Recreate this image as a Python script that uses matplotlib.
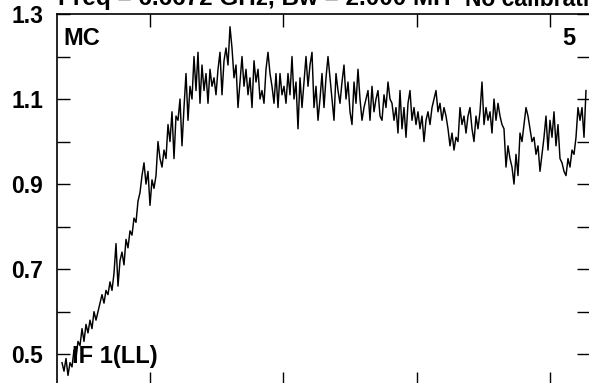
import matplotlib
matplotlib.use("Agg")
import matplotlib.pyplot as plt
import numpy as np

plt.rcParams['font.family'] = ['Liberation Sans', 'DejaVu Sans']
plt.rcParams['font.weight'] = 'bold'

# spectrum amplitude (one value every 2 channels)
flux = [
    # rise
    0.48, 0.46, 0.49, 0.45, 0.48, 0.47, 0.51, 0.49, 0.53, 0.52,
    0.56, 0.53, 0.57, 0.55, 0.58, 0.56, 0.60, 0.58, 0.60, 0.62,
    0.64, 0.62, 0.65, 0.64, 0.67, 0.65, 0.69, 0.76, 0.66, 0.72,
    0.74, 0.71, 0.77, 0.75, 0.79, 0.78, 0.82, 0.81, 0.86, 0.88,
    0.92, 0.95, 0.90, 0.93, 0.85, 0.91, 0.89, 0.92, 1.00, 0.96,
    0.94, 0.98, 0.96, 1.04, 1.00, 1.07, 0.96, 1.06, 1.05, 1.10,
    0.99, 1.08, 1.16, 1.05, 1.13, 1.10, 1.20, 1.12, 1.21, 1.09,
    # peak
    1.18, 1.12, 1.16, 1.09, 1.17, 1.13, 1.15, 1.11, 1.17, 1.21,
    1.11, 1.19, 1.22, 1.18, 1.27, 1.22, 1.15, 1.18, 1.08, 1.14,
    1.20, 1.13, 1.17, 1.11, 1.15, 1.08, 1.19, 1.14, 1.17, 1.10,
    # plateau
    1.12, 1.09, 1.17, 1.21, 1.16, 1.13, 1.09, 1.16, 1.08, 1.16,
    1.11, 1.13, 1.09, 1.16, 1.11, 1.20, 1.10, 1.14, 1.03, 1.15,
    1.08, 1.14, 1.20, 1.13, 1.18, 1.21, 1.08, 1.13, 1.05, 1.10,
    1.16, 1.08, 1.15, 1.20, 1.15, 1.10, 1.05, 1.16, 1.12, 1.09,
    1.14, 1.18, 1.10, 1.14, 1.07, 1.04, 1.14, 1.09, 1.17, 1.10,
    1.05, 1.08, 1.10, 1.12, 1.05,
    1.13, 1.07, 1.10, 1.12, 1.06, 1.05, 1.11, 1.08, 1.14, 1.10,
    1.09, 1.05, 1.08, 1.02, 1.12, 1.03, 1.08, 1.01, 1.09, 1.12,
    1.05, 1.08, 1.04, 1.07, 1.03, 1.06, 1.00, 1.05, 1.07, 1.04,
    1.08, 1.10, 1.12, 1.07, 1.09, 1.05, 1.08, 1.06, 1.03, 0.99,
    1.02, 0.98, 1.01, 1.00, 1.08, 1.04, 1.06, 1.02, 1.06, 1.08,
    1.03, 1.00,
    # dip and recovery
    1.06, 1.03, 1.07, 1.14, 1.04, 1.08, 1.05, 1.07, 1.02, 1.10,
    1.05, 1.09, 1.06, 1.04, 1.03, 0.94, 0.99, 0.96, 0.94, 0.90,
    0.97, 0.92, 1.02, 1.00, 1.04, 1.08, 1.06, 1.03, 1.00, 1.01,
    0.97, 0.99, 0.93, 0.97, 1.01, 1.06, 0.98, 1.05, 1.01, 1.07,
    0.99, 1.04, 0.96, 0.95, 0.93, 0.92, 0.96, 0.94, 0.98, 0.97,
    1.01, 1.08, 1.05, 1.08, 1.01, 1.12,
]
chan = 62 + 2 * np.arange(len(flux))

yticks = [0.5, 0.6, 0.7, 0.8, 0.9, 1.0, 1.1, 1.2, 1.3]
ylabels = ['0.5', '', '0.7', '', '0.9', '', '1.1', '', '1.3']
xticks = [150, 283, 417, 550]

title_left = 'Freq = 6.6672 GHz, Bw = 2.000 MH'
title_right = 'No calibrati'

fig = plt.figure(figsize=(5.89, 3.83), dpi=100)
ax = fig.add_axes([57 / 589, -2 / 383, 533 / 589, 371 / 383])

ax.plot(chan, flux, color='black', lw=1.05)

ax.set_xlim(57, 590)
ax.set_ylim(0.4275, 1.3)
ax.set_xticks(xticks)
ax.set_xticklabels([])
ax.set_yticks(yticks)
ax.set_yticklabels(ylabels)
ax.tick_params(direction='in', length=9.5, width=1.0, top=True, right=True,
               labelsize=16.5, pad=10)
for s in ax.spines.values():
    s.set_linewidth(1.2)

# corner labels
ax.text(0.012, 0.965, 'MC', transform=ax.transAxes,
        fontsize=17, fontweight='bold', va='top', ha='left')
ax.text(0.972, 0.965, '5', transform=ax.transAxes,
        fontsize=17, fontweight='bold', va='top', ha='right')
ax.text(0.028, 0.059, 'IF 1(LL)', transform=ax.transAxes,
        fontsize=17, fontweight='bold', va='baseline', ha='left')

# title, clipped by the top edge as in the original
fig.text(58 / 589, 1 - 5.5 / 383, title_left, fontsize=17.5,
         fontweight='bold', va='baseline', ha='left')
fig.text(589 / 589, 1 - 5.5 / 383, title_right, fontsize=16.5,
         fontweight='bold', va='baseline', ha='right')

fig.savefig('out.png', dpi=100)
